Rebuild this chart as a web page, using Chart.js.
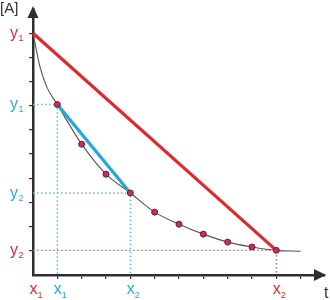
<!DOCTYPE html>
<html>
<head>
<meta charset="utf-8">
<script src="https://cdn.jsdelivr.net/npm/chart.js@4/dist/chart.umd.min.js"></script>
<style>
  html, body { margin: 0; padding: 0; background: #ffffff; }
  #wrap { width: 330px; height: 300px; }
</style>
</head>
<body>
<div id="wrap"><canvas id="c" width="330" height="300"></canvas></div>
<script>
// ---- data ----
const curveX = [0, 0.08, 0.29, 0.57, 1, 2, 3, 4, 5, 6, 7, 8, 9, 10, 11];
const curveY = [10, 9.6, 8.6, 7.77, 7.05, 5.41, 4.17, 3.39, 2.6, 2.1, 1.69, 1.36, 1.16, 1.02, 0.98];
const sampleX = [1, 2, 3, 4, 5, 6, 7, 8, 9, 10];
const sampleY = [7.05, 5.41, 4.17, 3.39, 2.6, 2.1, 1.69, 1.36, 1.16, 1.02];
const wideSecantX = [0, 10];
const wideSecantY = [10, 1.02];
const narrowSecantX = [1, 4];
const narrowSecantY = [7.05, 3.39];
const xTickValues = [1, 2, 3, 4, 5, 6, 7, 8, 9, 10, 11];
const yTickValues = [1, 2, 3, 4, 5, 6, 7, 8, 9, 10];
const yLabelValues = [10, 7.05, 3.39, 1.02];
const yLabelTexts = ['y', 'y', 'y', 'y'];
const yLabelSubs = ['1', '1', '2', '2'];
const xLabelValues = [0, 1, 4, 10];
const xLabelTexts = ['x', 'x', 'x', 'x'];
const xLabelSubs = ['1', '1', '2', '2'];
const labelKinds = ['wide', 'narrow', 'narrow', 'wide'];
const yAxisTitle = '[A]';
const xAxisTitle = 't';

const RED = '#e2282d';
const CYAN = '#2aaae0';
const BLUE = '#1fa8dd';
const AXIS = '#2e2e2e';
const kindColor = k => (k === 'wide' ? RED : CYAN);

const pts = (xs, ys) => xs.map((x, i) => ({ x: x, y: ys[i] }));

function dropLines(xs, ys) {
  // corner guides from each end point to both axes
  const out = [];
  xs.forEach((x, i) => {
    if (x === 0) return;
    out.push({ x: 0, y: ys[i] }, { x: x, y: ys[i] }, { x: x, y: 0 }, { x: NaN, y: NaN });
  });
  return out.map(p => (isNaN(p.x) ? { x: null, y: null } : p));
}

const labelPlugin = {
  id: 'labels',
  afterDraw(chart) {
    const ctx = chart.ctx;
    const xs = chart.scales.x, ys = chart.scales.y;
    const ca = chart.chartArea;
    ctx.save();
    // arrow heads
    ctx.fillStyle = AXIS;
    const yx = xs.getPixelForValue(0), ty = ca.top;
    ctx.beginPath();
    ctx.moveTo(yx, ty - 3);
    ctx.lineTo(yx - 5.5, ty + 9);
    ctx.lineTo(yx + 5.5, ty + 9);
    ctx.closePath();
    ctx.fill();
    const xy = ys.getPixelForValue(0), rx = ca.right;
    ctx.beginPath();
    ctx.moveTo(rx + 1, xy);
    ctx.lineTo(rx - 11, xy - 6);
    ctx.lineTo(rx - 11, xy + 6);
    ctx.closePath();
    ctx.fill();

    // y labels
    ctx.textBaseline = 'alphabetic';
    yLabelValues.forEach((v, i) => {
      const py = ys.getPixelForValue(v);
      ctx.fillStyle = kindColor(labelKinds[i]);
      ctx.font = '16px "Liberation Sans", Arial, sans-serif';
      ctx.textAlign = 'right';
      ctx.fillText(yLabelTexts[i], 18, py + 4.5);
      ctx.font = '9px "Liberation Sans", Arial, sans-serif';
      ctx.textAlign = 'left';
      ctx.fillText(yLabelSubs[i], 18.5, py + 7.5);
    });
    // x labels
    xLabelValues.forEach((v, i) => {
      const px = xs.getPixelForValue(v);
      ctx.fillStyle = kindColor(labelKinds[i]);
      ctx.font = '16px "Liberation Sans", Arial, sans-serif';
      ctx.textAlign = 'center';
      ctx.fillText(xLabelTexts[i], px + 0.5, 294);
      ctx.font = '9px "Liberation Sans", Arial, sans-serif';
      ctx.textAlign = 'left';
      ctx.fillText(xLabelSubs[i], px + 4.5, 297.5);
    });
    // axis titles
    ctx.fillStyle = '#333';
    ctx.font = '15px "Liberation Sans", Arial, sans-serif';
    ctx.textAlign = 'left';
    ctx.fillText(yAxisTitle, 0, 13);
    ctx.font = '16px "Liberation Sans", Arial, sans-serif';
    ctx.fillText(xAxisTitle, 324, 298);
    ctx.restore();
  }
};

new Chart(document.getElementById('c'), {
  type: 'scatter',
  data: {
    datasets: [
      { // sample points
        data: pts(sampleX, sampleY),
        showLine: false,
        pointRadius: 3,
        pointBackgroundColor: '#c4305b',
        pointBorderColor: '#6a1c33',
        pointBorderWidth: 1,
        clip: false
      },
      { // narrow secant
        data: pts(narrowSecantX, narrowSecantY),
        showLine: true,
        borderColor: BLUE,
        borderWidth: 3.2,
        pointRadius: 0,
        clip: false
      },
      { // wide secant
        data: pts(wideSecantX, wideSecantY),
        showLine: true,
        borderColor: RED,
        borderWidth: 3.2,
        pointRadius: 0,
        clip: false
      },
      { // curve
        data: pts(curveX, curveY),
        showLine: true,
        borderColor: '#555555',
        borderWidth: 1.1,
        pointRadius: 0,
        cubicInterpolationMode: 'monotone',
        clip: false
      },
      { // cyan guides
        data: dropLines(narrowSecantX, narrowSecantY),
        showLine: true,
        spanGaps: false,
        borderColor: '#4dc0ec',
        borderWidth: 1.5,
        borderDash: [1.5, 2.5],
        pointRadius: 0
      },
      { // red guides
        data: dropLines(wideSecantX, wideSecantY),
        showLine: true,
        spanGaps: false,
        borderColor: '#ef5b68',
        borderWidth: 1.3,
        borderDash: [1.5, 2.5],
        pointRadius: 0
      }
    ]
  },
  options: {
    responsive: false,
    animation: false,
    events: [],
    layout: { padding: { top: 9, right: 4, left: 0, bottom: 0 } },
    plugins: { legend: { display: false }, tooltip: { enabled: false } },
    scales: {
      x: {
        type: 'linear', position: 'bottom', min: 0, max: 12,
        afterBuildTicks: s => { s.ticks = xTickValues.map(v => ({ value: v })); },
        afterFit: s => { s.height = 25; },
        grid: { drawOnChartArea: false, drawTicks: true, tickLength: 4, color: AXIS, lineWidth: 1.2 },
        border: { display: true, color: AXIS, width: 2.5 },
        ticks: { display: false }
      },
      y: {
        type: 'linear', position: 'left', min: 0, max: 11,
        afterBuildTicks: s => { s.ticks = yTickValues.map(v => ({ value: v })); },
        afterFit: s => { s.width = 33; },
        grid: { drawOnChartArea: false, drawTicks: true, tickLength: 4, color: AXIS, lineWidth: 1.2 },
        border: { display: true, color: AXIS, width: 2.5 },
        ticks: { display: false }
      }
    }
  },
  plugins: [labelPlugin]
});
</script>
</body>
</html>
